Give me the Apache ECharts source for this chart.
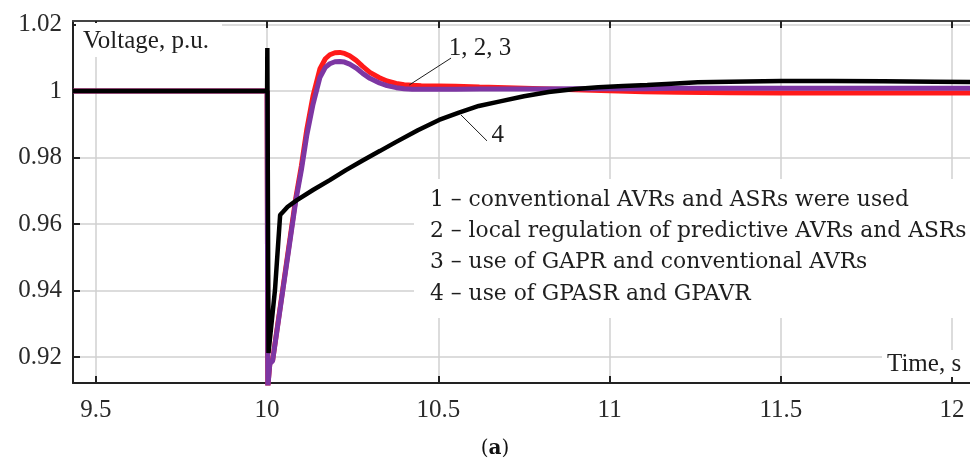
<!DOCTYPE html>
<html>
<head>
<meta charset="utf-8">
<script src="https://cdn.jsdelivr.net/npm/echarts@6/dist/echarts.min.js"></script>
<style>
  html, body { margin: 0; padding: 0; background: #fff; }
  #chart { width: 970px; height: 459px; }
</style>
</head>
<body>
<div id="chart"></div>
<script>
// Tick positions on both axes
const xTicks = [9.5, 10, 10.5, 11, 11.5, 12];
const yTicks = [0.92, 0.94, 0.96, 0.98, 1, 1.02];

// Time base shared by curves 1, 2 and 3 (s)
const timeFast = [9.4332, 10.0, 10.002, 10.008, 10.016, 10.084, 10.1, 10.116, 10.134, 10.154,
  10.17, 10.183, 10.198, 10.212, 10.226, 10.241, 10.26, 10.279, 10.3, 10.328,
  10.35, 10.377, 10.4, 10.424, 10.45, 10.5, 10.55, 10.62, 10.7, 10.8,
  10.9, 11.0, 11.1, 11.2, 11.35, 11.5, 11.8, 12.0523];

// Curve 1: conventional AVRs and ASRs (p.u.)
const curve1 = [1.0, 1.0, 0.9110, 0.9182, 0.9190, 0.9680, 0.9775, 0.9885, 0.9985, 1.0066,
  1.0097, 1.0109, 1.0115, 1.0116, 1.0113, 1.0106, 1.0092, 1.0074, 1.0056, 1.0040,
  1.0030, 1.0023, 1.0019, 1.0017, 1.0016, 1.0015, 1.0014, 1.0012, 1.0010, 1.0007,
  1.0004, 1.0001, 0.9998, 0.9996, 0.9995, 0.9994, 0.9994, 0.9994];

// Curves 2 and 3 (they coincide) (p.u.)
const curve23 = [1.0, 1.0, 0.9108, 0.9180, 0.9188, 0.9672, 0.9762, 0.9868, 0.9960, 1.0040,
  1.0071, 1.0082, 1.0088, 1.0089, 1.0087, 1.0081, 1.0069, 1.0053, 1.0038, 1.0024,
  1.0016, 1.0010, 1.0007, 1.0005, 1.0005, 1.0005, 1.0005, 1.0006, 1.0006, 1.0006,
  1.0007, 1.0007, 1.0007, 1.0008, 1.0008, 1.0008, 1.0008, 1.0008];

// Time base of curve 4 (s)
const timeSlow = [9.4332, 10.0, 10.0006, 10.004, 10.023, 10.038, 10.046, 10.06, 10.087, 10.135,
  10.183, 10.23, 10.279, 10.33, 10.377, 10.44, 10.502, 10.56, 10.618, 10.677,
  10.75, 10.822, 10.9, 10.967, 11.04, 11.11, 11.18, 11.257, 11.35, 11.5,
  11.65, 11.8, 11.95, 12.0523];

// Curve 4: GPASR and GPAVR (p.u.)
const curve4 = [1.0, 1.0, 1.0129, 0.9212, 0.9402, 0.9627, 0.9636, 0.9652, 0.9672, 0.9703,
  0.9732, 0.9762, 0.9791, 0.9820, 0.9847, 0.9882, 0.9913, 0.9935, 0.9955, 0.9968,
  0.9984, 0.9997, 1.0006, 1.0011, 1.0015, 1.0018, 1.0022, 1.0026, 1.0028, 1.0030,
  1.0030, 1.0029, 1.0028, 1.0027];

// Curve key shown inside the plot
const keyLines = [
  '1 – conventional AVRs and ASRs were used',
  '2 – local regulation of predictive AVRs and ASRs',
  '3 – use of GAPR and conventional AVRs',
  '4 – use of GPASR and GPAVR'
];

// Leader lines and their tags, in data units
const leader123 = [[10.415, 1.0018], [10.537, 1.0099]];
const leader4 = [[10.566, 0.9928], [10.642, 0.9850]];
const tag123 = { text: '1, 2, 3', at: [10.530, 1.0129] };
const tag4 = { text: '4', at: [10.655, 0.9865] };

const xMin = 9.4332, xMax = 12.0523;
const yMin = 0.91218, yMax = 1.02105;

const zip = (xs, ys) => xs.map((x, i) => [x, ys[i]]);

const serif = '"Liberation Serif", "Times New Roman", serif';
const keyFont = '"DejaVu Serif", serif';
const ink = '#1e1e1e';

const chart = echarts.init(document.getElementById('chart'), null, { renderer: 'canvas' });

const gridLine = { show: true, lineStyle: { color: '#d0d0d0', width: 1.5 } };

chart.setOption({
  animation: false,
  backgroundColor: '#fff',
  grid: { left: 73, top: 21, width: 902, height: 362, containLabel: false },
  xAxis: [
    {
      type: 'value', min: xMin, max: xMax, position: 'bottom',
      axisLine: { show: true, onZero: false, lineStyle: { color: '#222', width: 2 } },
      axisTick: { show: true, inside: true, length: 7, customValues: xTicks, lineStyle: { color: '#222', width: 2 } },
      axisLabel: { customValues: xTicks, margin: 15, fontFamily: serif, fontSize: 25, color: '#2a2a2a' },
      splitLine: gridLine
    },
    {
      type: 'value', min: xMin, max: xMax, position: 'top',
      axisLine: { show: true, onZero: false, lineStyle: { color: '#444', width: 2 } },
      axisTick: { show: true, inside: true, length: 7, customValues: xTicks, lineStyle: { color: '#222', width: 2 } },
      axisLabel: { show: false },
      splitLine: { show: false }
    }
  ],
  yAxis: [
    {
      type: 'value', min: yMin, max: yMax,
      axisLine: { show: true, onZero: false, lineStyle: { color: '#222', width: 2 } },
      axisTick: { show: true, inside: true, length: 7, customValues: yTicks, lineStyle: { color: '#222', width: 2 } },
      axisLabel: { customValues: yTicks, margin: 11, fontFamily: serif, fontSize: 25, color: '#2a2a2a' },
      splitLine: gridLine
    }
  ],
  series: [
    {
      name: '1', type: 'line', data: zip(timeFast, curve1), showSymbol: false, symbol: 'none',
      lineStyle: { color: '#ff1a1a', width: 5 }, z: 3, silent: true
    },
    {
      name: '2, 3', type: 'line', data: zip(timeFast, curve23), showSymbol: false, symbol: 'none',
      lineStyle: { color: '#7d36a3', width: 5 }, z: 4, silent: true
    },
    {
      name: '4', type: 'line', data: zip(timeSlow, curve4), showSymbol: false, symbol: 'none',
      lineStyle: { color: '#000', width: 4.5 }, z: 5, silent: true
    },
    {
      type: 'lines', coordinateSystem: 'cartesian2d', polyline: false, silent: true, z: 6,
      lineStyle: { color: ink, width: 1, opacity: 1 },
      data: [{ coords: leader123 }, { coords: leader4 }]
    },
    {
      type: 'scatter', symbolSize: 0, silent: true, z: 6,
      itemStyle: { opacity: 1 },
      data: [
        { value: tag123.at, name: tag123.text },
        { value: tag4.at, name: tag4.text }
      ],
      label: {
        show: true, position: 'right', distance: 0, formatter: p => p.name,
        fontFamily: serif, fontSize: 25, color: ink, opacity: 1
      }
    }
  ],
  graphic: [
    // axis titles sit on white patches that interrupt the grid
    { type: 'rect', z: 10, shape: { x: 76, y: 23, width: 146, height: 34 }, style: { fill: '#fff' } },
    { type: 'text', z: 11, style: { text: 'Voltage, p.u.', x: 83, y: 41, verticalAlign: 'middle', font: '25px ' + serif, fill: ink } },
    { type: 'rect', z: 10, shape: { x: 882, y: 350, width: 88, height: 27 }, style: { fill: '#fff' } },
    { type: 'text', z: 11, style: { text: 'Time, s', x: 887, y: 364, verticalAlign: 'middle', font: '25px ' + serif, fill: ink } },
    // curve key
    { type: 'rect', z: 10, shape: { x: 414, y: 179, width: 560, height: 139 }, style: { fill: '#fff' } },
    ...keyLines.map((line, i) => ({
      type: 'text', z: 11,
      style: { text: line, x: 430, y: 200 + i * 31.3, verticalAlign: 'middle', font: '21.8px ' + keyFont, fill: ink }
    })),
    // panel caption
    {
      type: 'text', z: 11,
      style: {
        text: '({b|a})', x: 495, y: 449, align: 'center', verticalAlign: 'middle',
        font: '20px ' + keyFont, fill: '#111',
        rich: { b: { fontWeight: 'bold', fontSize: 20, fontFamily: keyFont, fill: '#111' } }
      }
    }
  ]
});
</script>
</body>
</html>
